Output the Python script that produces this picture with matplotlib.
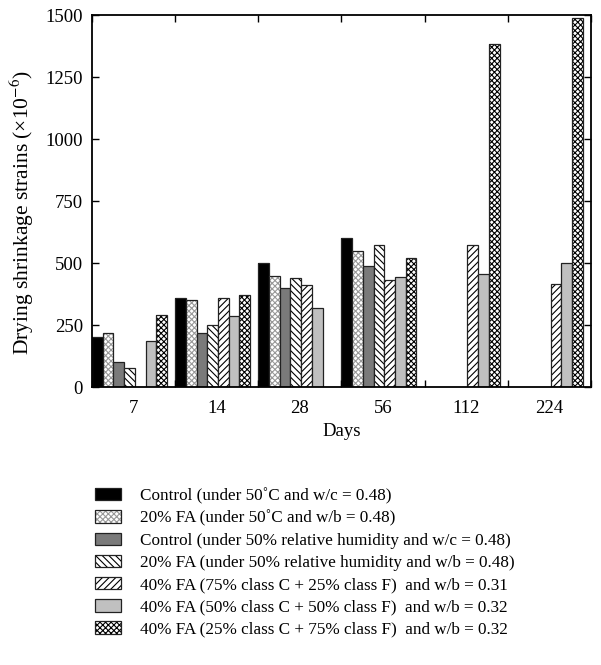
import numpy as np
import matplotlib
matplotlib.use('Agg')
import matplotlib.pyplot as plt
from matplotlib.patches import Patch

plt.rcParams['font.family'] = ['Liberation Serif', 'DejaVu Serif']
plt.rcParams['mathtext.fontset'] = 'stix'
plt.rcParams['hatch.linewidth'] = 0.8

nan = np.nan
days = ['7', '14', '28', '56', '112', '224']

control_50C = [200, 360, 500, 600, nan, nan]
fa20_50C = [220, 350, 450, 550, nan, nan]
control_rh = [100, 220, 400, 490, nan, nan]
fa20_rh = [75, 250, 440, 575, nan, nan]
fa40_75C = [nan, 360, 410, 430, 575, 415]
fa40_50C = [185, 285, 320, 445, 455, 500]
fa40_25C = [290, 370, nan, 520, 1385, 1490]

labels = [
    'Control (under 50˚C and w/c = 0.48)',
    '20% FA (under 50˚C and w/b = 0.48)',
    'Control (under 50% relative humidity and w/c = 0.48)',
    '20% FA (under 50% relative humidity and w/b = 0.48)',
    '40% FA (75% class C + 25% class F)  and w/b = 0.31',
    '40% FA (50% class C + 50% class F)  and w/b = 0.32',
    '40% FA (25% class C + 75% class F)  and w/b = 0.32',
]
series = [control_50C, fa20_50C, control_rh, fa20_rh, fa40_75C, fa40_50C, fa40_25C]

# facecolor, hatch, hatch colour
styles = [
    ('black', None, 'black'),
    ('white', 'xxxxxx', '#999999'),
    ('#7a7a7a', None, 'black'),
    ('white', '\\\\\\\\\\', 'black'),
    ('white', '/////', 'black'),
    ('#c0c0c0', None, 'black'),
    ('white', 'xxxxxx', 'black'),
]

fig = plt.figure(figsize=(6.01, 6.65), dpi=100)
ax = fig.add_axes([0.153, 0.418, 0.83, 0.559])

w = 0.129
x = np.arange(len(days))
handles = []
for i, (vals, (fc, hatch, hc)) in enumerate(zip(series, styles)):
    vals = np.array(vals, dtype=float)
    m = ~np.isnan(vals)
    ax.bar(x[m] + i * w, vals[m], width=w, align='edge', color=fc,
           hatch=hatch, edgecolor=hc, linewidth=0)
    ax.bar(x[m] + i * w, vals[m], width=w, align='edge', fill=False,
           edgecolor='#222222', linewidth=0.9)
    h1 = Patch(facecolor=fc, hatch=hatch, edgecolor=hc, linewidth=0)
    h2 = Patch(fill=False, edgecolor='#222222', linewidth=0.9)
    handles.append((h1, h2))

ax.set_xlim(0, 6)
ax.set_ylim(0, 1500)
ax.set_yticks(np.arange(0, 1501, 250))
ax.set_xticks(np.arange(0, 7))
ax.set_xticklabels([])
ax.set_xticks(x + 0.5, minor=True)
ax.set_xticklabels(days, minor=True)
ax.tick_params(axis='x', which='minor', length=0, pad=9)
ax.tick_params(which='major', direction='in', top=True, right=True,
               length=5, width=1)
ax.tick_params(axis='y', pad=6.5)
ax.tick_params(which='both', labelsize=13.5)
for s in ax.spines.values():
    s.set_linewidth(1.3)

ax.set_xlabel('Days', fontsize=13.5, labelpad=5)
ax.set_ylabel('Drying shrinkage strains (×10$^{-6}$)', fontsize=15.5)
ax.yaxis.set_label_coords(-0.112, 0.47)

fig.legend(handles, labels, loc='upper left', bbox_to_anchor=(0.147, 0.277),
           frameon=False, fontsize=12.3, handlelength=1.5, handleheight=0.75,
           handletextpad=1.1, labelspacing=0.35, borderaxespad=0)

fig.savefig('out.png', dpi=100)
